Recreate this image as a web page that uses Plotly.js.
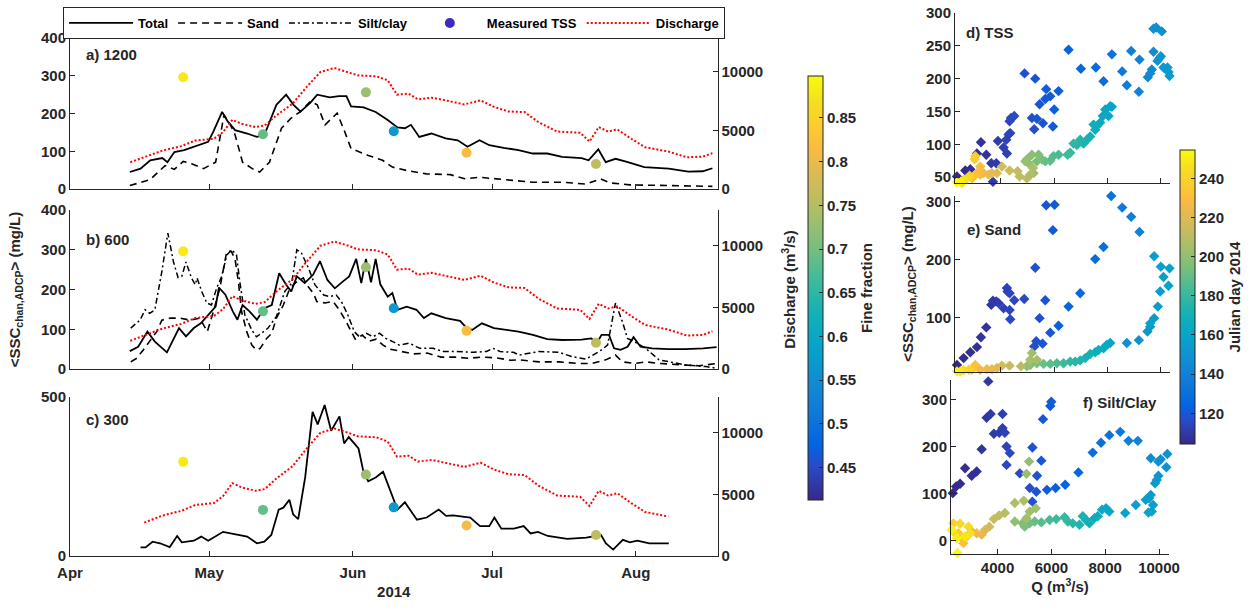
<!DOCTYPE html>
<html><head><meta charset="utf-8">
<script src="https://cdn.plot.ly/plotly-3.0.1.min.js"></script>
<style>html,body{margin:0;padding:0;background:#fff}</style>
</head><body><div id="chart" style="width:1259px;height:610px"></div>
<script>
// ---------- DATA (x = Julian day 2014) ----------
const monthTicks = [91,121,152,182,213];
const monthLabels = ['Apr','May','Jun','Jul','Aug'];

const dischargeDay = [104,107,111,115,118,122,124,126,128,131,133,135.5,139,142,145,148,151,153,157,159.5,161.5,164,166,169,172,176,179.5,182.5,185.5,189,192,196,201,203,205,207,209,212,215,220,224,227.5,229.5];
const dischargeQ   = [2290,2710,3290,3660,4140,4290,4860,5910,5570,5290,5430,6290,7290,8710,10000,10340,10000,9710,9630,9290,8060,8140,7660,7800,7570,7230,7570,7000,6630,6570,5710,4910,4800,4060,5290,4910,5090,4290,3570,3200,2710,2770,3060];

const totalADay = [103.9,106.2,108.3,110.9,112,113.5,115.6,117.7,119.8,120.8,121.9,123.8,125,126.6,129.2,131.3,132.9,135.5,137.6,139.2,140.7,142.8,144.3,147,149,150.6,151.6,154.3,156.9,159.5,161.6,163.2,164.5,166.3,168.9,172,174.6,176.7,179.3,181.4,184.5,187.7,190.8,193.9,197.1,201.3,202.8,204.9,206.5,208.6,210.7,214.8,220.1,224.3,227.4,229.5];
const totalAVal = [45,54,76,82,71,98,103,112,121,125,152,204,179,156,147,138,143,223,250,223,205,228,250,243,246,246,219,216,204,183,163,161,170,138,147,134,129,112,129,116,109,103,94,94,85,82,76,105,71,80,73,58,54,46,47,55];

const sandADay = [103.9,108.3,111.5,113.5,115.4,117.2,119.8,122.4,124.2,125.6,126.6,128.2,130.3,131.9,134,136.6,138.7,140.7,142.8,144.3,146,147,148.6,150.1,151.6,155.3,158.4,160.5,163.6,167.8,173,176.1,179.3,184.5,190.8,197.1,202.3,205.4,207.5,211.7,220.1,229.5];
const sandAVal = [9,25,62,52,73,67,54,71,196,170,143,71,54,45,71,161,188,205,232,223,170,183,201,156,107,89,76,58,49,40,38,27,31,25,18,18,13,27,16,11,9,7];

const totalBDay = [103.9,105.7,107.7,109.3,111.9,114.5,116,117.7,119.2,120.8,122.4,123.1,124.5,126.1,127.1,128.2,129.7,131.3,132.9,134.5,136.1,137.6,138.7,139.9,141.6,143.4,144.9,146.5,148.1,149.6,151.2,152.7,153.8,154.8,155.9,156.9,157.9,159.5,160.5,161.6,163.6,165.7,167.3,168.9,172,175.1,176.2,177.7,179.8,182.4,185,187.7,190.8,193.9,197.1,201.3,203.4,204.6,205.6,207.2,208.3,209.7,211.2,212.5,214,216.5,220,223.7,227.5,230.4];
const totalBVal = [45,56,94,69,42,103,82,103,115,136,157,205,187,145,124,161,145,124,153,161,241,212,195,233,216,237,271,224,203,218,233,277,216,277,218,277,213,182,191,149,157,149,128,140,128,121,107,98,115,103,98,94,86,75,73,74,77,65,86,86,52,48,56,80,56,52,50,50,52,55];

const sandBDay = [104.1,105.4,106.8,108.2,109.7,110.8,112.6,114.7,116.9,119,120.6,121.9,123.3,124.8,125.8,126.6,127.3,128,129.1,130.2,131.2,132,133.4,134.5,135.5,137,138.4,139.9,141.3,142,143.5,144.2,146,147.7,149,150.5,151.8,152.5,154,155.5,157,158.5,160,162,165,168,171,174,177,180,183,186,187.8,192.1,196.4,200.7,203.6,206.5,208.6,210.1,212.9,215.1,218,222.3,226.6,230.4];
const sandBVal = [18,27,48,69,94,123,128,128,123,128,94,144,203,296,296,275,220,144,94,60,48,52,77,90,128,161,203,220,229,212,190,170,166,170,150,120,90,75,85,70,75,60,50,45,38,40,30,30,27,30,28,22,23,18,18,14,14,23,35,18,14,18,14,11,8,14];

const siltBDay = [104.1,106.1,107.2,108.2,109.3,110.8,112.1,113.3,114.3,115.1,116,117.2,118,118.4,119.4,120.5,121.5,122.6,123.7,124.8,125.9,126.9,127.6,128.7,130.2,131.2,132.3,133.7,135.5,137.3,138.8,139.9,140.9,142.4,143.8,145.7,147,148.4,149.5,150.9,152.3,153.4,154.9,156.3,157.7,159.1,160.6,162,164.2,166.4,169.3,171.5,174.3,177.9,180.8,182.2,183.7,186.6,187.8,192.1,196.4,199.3,202.2,205.1,206.9,208.6,210.1,211.2,212.6,215.1,218,220.2,223.8,228.1,230.4];
const siltBVal = [103,123,149,140,149,245,342,270,230,233,269,229,212,229,195,166,161,203,233,287,300,287,220,136,98,81,90,103,132,195,216,300,292,254,212,186,182,186,170,136,94,81,90,81,90,77,69,60,65,52,52,44,44,42,44,52,44,42,35,44,42,31,25,44,60,166,119,77,69,52,23,18,10,6,2];

const totalCDay = [106.2,107.3,108.8,110.4,112.5,114.1,115.1,117.7,119.3,120.8,124,127.1,129.2,131.3,132.9,134.4,136,137,138.3,139.1,140.2,141.7,143.3,144.4,145.9,147.3,149.1,150.1,151.1,153.2,154.3,155.3,156.9,158.5,160.3,161.6,163.2,165.8,167.9,170.5,172.1,173.6,177.3,179.4,181.4,182.5,184,186.7,188.8,190.3,191.9,194,198.2,202.3,205.5,206.5,208.1,210.2,211.7,213.3,215.9,220.1];
const totalCVal = [27,27,45,40,28,63,43,48,61,48,76,66,61,40,45,66,146,152,177,131,116,247,453,414,475,394,439,354,374,338,263,235,247,265,194,146,169,114,121,146,126,128,121,94,94,121,86,86,94,71,76,63,54,58,66,40,20,51,43,48,40,40];

const tssDay = [115.4,132.6,154.8,160.8,176.5,204.4];
const tssVal = [296,145,256,153,96,66];
const tssFineFraction = [0.88,0.69,0.73,0.57,0.815,0.76];

// right-hand scatter panels: discharge Q, SSC, Julian day
const dQ = [2344,2658,2846,3097,3247,3448,3636,3825,3699,3887,4101,4226,4201,4289,4352,4327,4377,4502,4891,5293,5168,5356,5255,5456,5582,5707,5858,5670,6008,5958,6172,6548,7012,7577,7866,8180,8569,8744,8907,9196,9221,9535,9623,9685,9748,9748,9849,10062,9899,9974,10024,10125,10275,10351,10313,8180,8117,8054,7929,7841,7740,7615,7552,7489,7364,7238,7113,6987,6862,6736,6611,6510,6172,5983,5858,5670,5544,5356,5418,5168,5042,4979,4917,5230,5205,5105,4979,4703,4628,4327,4038,3850,3662,3536,3348,3222,3222,3097,2971,2908,3034,3009,2821,2720,2595,2532,2469,2344];
const dSSC = [51,60,62,86,103,84,71,71,43,105,95,86,107,115,117,135,140,143,208,200,140,139,123,161,132,184,173,169,153,127,181,244,215,217,196,237,211,190,242,180,229,202,208,214,241,276,278,272,227,231,234,217,217,204,210,157,158,143,153,143,133,128,122,130,112,107,101,107,99,101,87,84,84,82,75,74,77,74,84,84,71,77,74,56,64,54,48,51,59,60,66,56,56,54,56,54,66,56,51,48,82,77,52,48,46,41,43,42];
const dDay = [104,105,106,107,108,108,109,110,110,111,112,112,113,113,114,114,115,116,118,119,118,119,117,120,119,121,121,120,122,121,122,124,126,128,130,132,135,137,138,140,141,143,144,145,146,147,148,149,150,150,151,152,152,153,153,159,160,161,162,163,165,166,167,168,170,172,173,175,176,178,180,182,184,186,188,190,192,194,196,198,200,201,202,204,206,207,209,211,213,215,217,220,222,224,226,228,229,230,232,234,236,237,240,243,246,249,251,254];

const eQ = [2344,2595,2846,3097,3247,3448,3636,3699,3825,3912,4101,4226,4251,4327,4327,4352,4502,4879,5293,5707,6020,5958,5670,5456,5331,5255,5569,5858,6172,6548,6987,7552,7866,8155,8569,8907,9221,8744,9196,9522,9623,9773,9912,9999,9773,10024,10125,10313,10351,9623,8117,7991,7866,7677,7552,7364,7175,6987,6799,6611,6360,6109,5858,5607,5356,5105,4979,5168,5105,5356,4753,4327,4038,3850,3662,3473,3222,3034,2908,2795,2595,2469,2344];
const eSSC = [18,30,40,49,66,83,122,129,128,125,116,151,145,142,113,97,130,132,186,294,295,251,130,99,59,50,55,74,86,119,142,201,222,310,290,274,248,56,61,76,84,99,119,145,206,188,170,155,185,90,56,53,47,44,40,37,30,26,24,24,21,21,20,20,21,18,16,39,27,27,16,17,17,13,11,11,10,18,10,10,9,7,7];
const eDay = [104,105,106,107,108,108,109,110,110,111,112,113,113,114,114,115,115,116,118,120,121,121,119,118,118,117,119,120,122,124,126,128,130,132,135,138,141,148,149,151,152,153,154,155,156,157,157,158,158,159,160,162,164,166,168,170,172,174,176,178,182,185,188,191,194,197,200,204,206,205,210,214,217,220,223,225,228,232,235,240,244,248,252];

const fQ = [2337,2460,2608,2793,3039,3224,3409,3593,3655,3741,3864,4062,4185,4185,4271,4333,4456,4333,4825,5294,5195,5294,5441,5466,5626,5688,5959,5996,5836,6156,6513,7006,7536,7844,8152,8558,8866,9211,9692,9975,10061,10308,10271,9975,9913,9852,9692,9630,9507,9137,9778,9729,9606,8743,8152,8029,7881,7721,7598,7413,7290,7166,7043,6797,6612,6488,6181,5934,5626,5380,5195,5010,4924,4641,5170,5072,5417,5195,5072,4973,4641,4271,4062,3864,3692,3532,3409,3224,3039,2854,2731,2669,2546,2361,2423,2608,2916,2977,2793,2485,2299,2509];
const fSSC = [101,115,121,154,138,147,194,261,338,269,227,229,269,239,229,200,186,161,143,198,112,83,104,138,170,258,286,295,108,112,119,145,187,208,224,231,212,212,175,168,173,184,156,138,129,122,97,90,87,76,76,62,60,59,62,69,66,52,48,37,44,52,34,37,41,50,46,44,39,41,37,30,37,41,168,142,69,62,48,85,80,59,54,46,30,23,13,16,20,9,-5,6,16,37,16,36,30,16,9,6,23,-26];
const fDay = [104,105,105,106,107,107,108,109,109,110,110,111,112,112,113,114,115,115,116,118,117,118,119,119,120,120,121,122,121,122,124,126,128,130,132,135,138,141,145,147,148,150,150,151,152,153,154,155,156,156,157,158,159,159,161,162,163,164,166,168,170,172,174,176,178,180,182,184,187,190,193,195,197,199,201,202,203,204,205,206,207,209,211,213,216,219,222,225,227,229,231,233,235,238,240,242,244,246,248,250,252,254];

// ---------- STYLE ----------
const W = 1259, H = 610;
const fx = p => p / W, fy = p => 1 - p / H;
const FONT = 'Liberation Sans, Arial, Helvetica, sans-serif';
const INK = '#262626';
const tf = (s) => ({family: FONT, size: s, color: INK, weight: 'bold'});
const parula = [[0,'#352a87'],[0.0794,'#2b4ac7'],[0.127,'#0363e1'],[0.2063,'#1079da'],[0.2857,'#108ed2'],[0.3651,'#06a4ca'],[0.4444,'#15b1b4'],[0.5238,'#42bb98'],[0.6032,'#7cbf7b'],[0.6825,'#aebe67'],[0.7619,'#d9ba56'],[0.8254,'#f8ba44'],[0.873,'#fec832'],[0.9365,'#f5de21'],[1,'#f9fb0e']];

const ax = (extra) => Object.assign({showline:true, linecolor:INK, linewidth:1, ticks:'inside', ticklen:5, tickcolor:INK, tickwidth:1,
  showgrid:false, zeroline:false, fixedrange:true, tickfont:tf(15), tickformat:'d'}, extra);

const panels = [
  {top:38, bot:189, ymax:400, yt:[0,100,200,300,400]},
  {top:210, bot:369, ymax:400, yt:[0,100,200,300,400]},
  {top:397, bot:556, ymax:500, yt:[0,500]}
];
const XL = [70, 717.5];
const layout = {width:W, height:H, margin:{l:0,r:0,t:0,b:0}, paper_bgcolor:'#fff', plot_bgcolor:'rgba(0,0,0,0)',
  font:{family:FONT, color:INK}, showlegend:true,
  legend:{orientation:'h', x:fx(63), y:fy(7), xanchor:'left', yanchor:'top', bgcolor:'#fff', bordercolor:INK, borderwidth:1,
    font:{family:FONT, size:13, color:'#000', weight:'bold'}, itemwidth:64, tracegroupgap:0},
  annotations:[],
  coloraxis:{colorscale:parula, cmin:104.3, cmax:254.5,
    colorbar:{x:fx(1180), xanchor:'left', xpad:0, ypad:0, thickness:15, thicknessmode:'pixels', lenmode:'fraction', len:(444-150)/H,
      y:fy((150+444)/2), yanchor:'middle', tickvals:[120,140,160,180,200,220,240], ticks:'inside', ticklen:4, tickcolor:INK,
      outlinewidth:1, outlinecolor:INK, tickfont:tf(15), title:{text:'Julian day 2014', side:'right', font:tf(15)}}},
  coloraxis2:{colorscale:parula, cmin:0.413, cmax:0.898,
    colorbar:{x:fx(808), xanchor:'left', xpad:0, ypad:0, thickness:15, thicknessmode:'pixels', lenmode:'fraction', len:(500-76)/H,
      y:fy((76+500)/2), yanchor:'middle', tickvals:[0.45,0.5,0.55,0.6,0.65,0.7,0.75,0.8,0.85], ticks:'inside', ticklen:4, tickcolor:INK,
      outlinewidth:1, outlinecolor:INK, tickfont:tf(15), title:{text:'Fine fraction', side:'right', font:tf(15)}}}
};

panels.forEach((p, i) => {
  const n = i + 1;
  const xk = n === 1 ? 'xaxis' : 'xaxis' + n;
  const yl = 'yaxis' + (n === 1 ? '' : (2*n - 1));
  const yr = 'yaxis' + (2*n);
  const ylId = 'y' + (n === 1 ? '' : (2*n - 1));
  const xId = 'x' + (n === 1 ? '' : n);
  layout[xk] = ax({domain:[fx(XL[0]), fx(XL[1])], range:[91, 230.6], tickvals:monthTicks, ticktext:monthLabels,
    showticklabels: n === 3, anchor: ylId, ticklabelstandoff: 3});
  layout[yl] = ax({domain:[fy(p.bot), fy(p.top)], range:[0, p.ymax], tickvals:p.yt, anchor:xId});
  layout[yr] = ax({domain:[fy(p.bot), fy(p.top)], range:[0, 12900], tickvals:[0,5000,10000], overlaying:ylId, side:'right', anchor:xId});
});
layout.xaxis3.title = {text:'2014', font:tf(15), standoff:6};
layout.yaxis3.title = {text:'&lt;SSC<sub>chan,ADCP</sub>&gt; (mg/L)', font:tf(15), standoff:16};
layout.yaxis4.title = {text:'Discharge (m<sup>3</sup>/s)', font:tf(15), standoff:22};

// right panels
const RX = [2270, 10370];
layout.xaxis4 = ax({domain:[fx(955), fx(1170)], range:RX, tickvals:[4000,6000,8000,10000], showticklabels:false, anchor:'y7'});
layout.xaxis5 = ax({domain:[fx(955), fx(1170)], range:RX, tickvals:[4000,6000,8000,10000], showticklabels:false, anchor:'y8'});
layout.xaxis6 = ax({domain:[fx(951), fx(1169)], range:RX, tickvals:[4000,6000,8000,10000], anchor:'y9',
  title:{text:'Q (m<sup>3</sup>/s)', font:tf(15), standoff:6}});
layout.yaxis7 = ax({domain:[fy(183), fy(13)], range:[41, 300], tickvals:[50,100,150,200,250,300], anchor:'x4'});
layout.yaxis8 = ax({domain:[fy(372), fy(196)], range:[6, 310], tickvals:[100,200,300], anchor:'x5',
  title:{text:'&lt;SSC<sub>chan,ADCP</sub>&gt; (mg/L)', font:tf(15), standoff:8}});
layout.yaxis9 = ax({domain:[fy(554), fy(380)], range:[-28, 341], tickvals:[0,100,200,300], anchor:'x6'});

const lab = (t, x, y) => ({text:t, x:fx(x), y:fy(y), xref:'paper', yref:'paper', xanchor:'left', yanchor:'middle', showarrow:false, font:tf(15)});
layout.annotations.push(lab('a) 1200', 84, 55), lab('b) 600', 84, 239), lab('c) 300', 84, 419),
  lab('d) TSS', 964, 33), lab('e) Sand', 965, 229), lab('f) Silt/Clay', 1081, 402));

// ---------- TRACES ----------
const traces = [];
const line = (x, y, xa, ya, dash, w, color, name, show, rank) => ({type:'scatter', mode:'lines', x, y, xaxis:xa, yaxis:ya,
  line:{color, width:w, dash}, name, showlegend:show, legendrank:rank, hoverinfo:'skip'});
const qStart = 106, qEnd = 220;
const cQd = dischargeDay.filter(d => d >= qStart && d <= qEnd);
const cQv = dischargeQ.filter((v, i) => dischargeDay[i] >= qStart && dischargeDay[i] <= qEnd);

// panel a
traces.push(line(dischargeDay, dischargeQ, 'x', 'y2', '2px,2px', 2, '#ff0000', 'Discharge', true, 5));
traces.push(line(sandADay, sandAVal, 'x', 'y', '7px,5px', 1.6, '#000', 'Sand', true, 2));
traces.push(line(totalADay, totalAVal, 'x', 'y', 'solid', 1.8, '#000', 'Total', true, 1));
// panel b
traces.push(line(dischargeDay, dischargeQ, 'x2', 'y4', '2px,2px', 2, '#ff0000', 'Discharge', false));
traces.push(line(siltBDay, siltBVal, 'x2', 'y3', '6px,3px,2px,3px', 1.5, '#000', 'Silt/clay', true, 3));
traces.push(line(sandBDay, sandBVal, 'x2', 'y3', '7px,5px', 1.6, '#000', 'Sand', false));
traces.push(line(totalBDay, totalBVal, 'x2', 'y3', 'solid', 1.8, '#000', 'Total', false));
// panel c
traces.push(line(cQd, cQv, 'x3', 'y6', '2px,2px', 2, '#ff0000', 'Discharge', false));
traces.push(line(totalCDay, totalCVal, 'x3', 'y5', 'solid', 1.8, '#000', 'Total', false));
// measured TSS
[['x','y'],['x2','y3'],['x3','y5']].forEach(([xa, ya]) => traces.push({type:'scatter', mode:'markers', x:tssDay, y:tssVal,
  xaxis:xa, yaxis:ya, marker:{size:10, color:tssFineFraction, coloraxis:'coloraxis2', line:{width:0}}, showlegend:false, hoverinfo:'skip'}));
traces.push({type:'scatter', mode:'markers', x:[null], y:[null], xaxis:'x', yaxis:'y', name:'Measured TSS', legendrank:4,
  marker:{size:10, color:'#3b2bbf'}, showlegend:true});
// scatter panels
[[dQ, dSSC, dDay, 'x4', 'y7'], [eQ, eSSC, eDay, 'x5', 'y8'], [fQ, fSSC, fDay, 'x6', 'y9']].forEach(([x, y, c, xa, ya]) =>
  traces.push({type:'scatter', mode:'markers', x, y, xaxis:xa, yaxis:ya, cliponaxis:false, showlegend:false, hoverinfo:'skip',
    marker:{symbol:'diamond', size:8, color:c, coloraxis:'coloraxis', line:{width:0}}}));

Plotly.newPlot('chart', traces, layout, {staticPlot:true, displayModeBar:false});
</script></body></html>
